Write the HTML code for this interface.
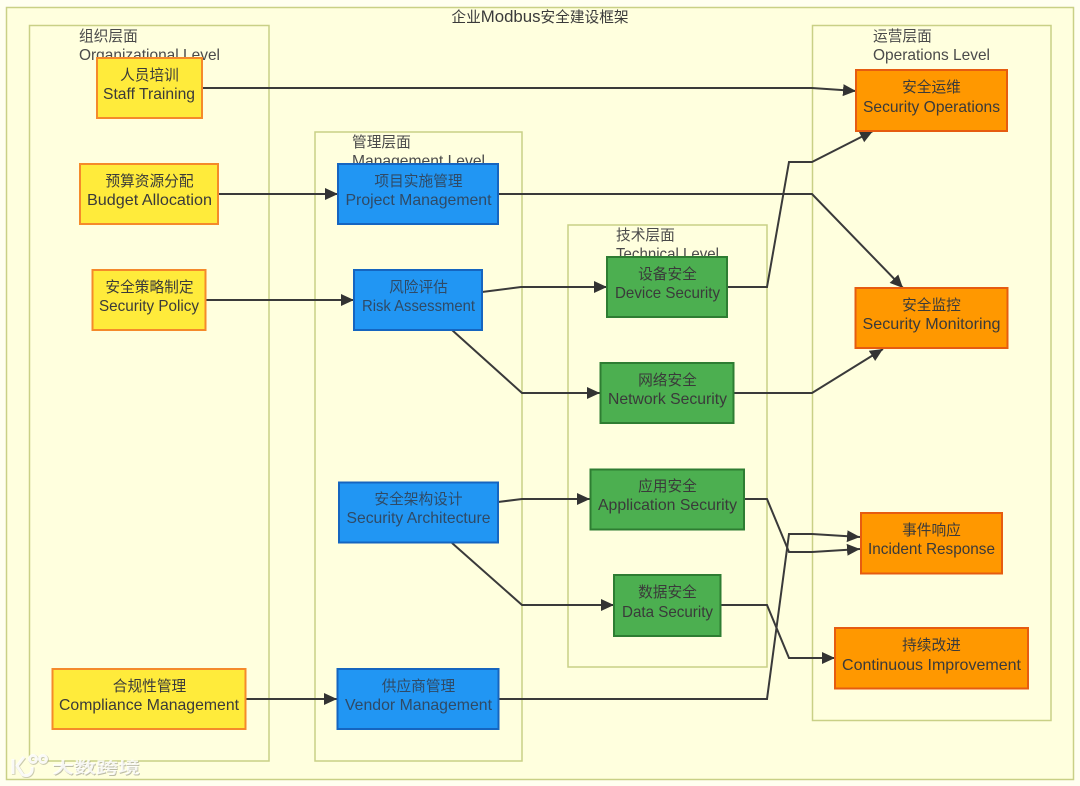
<!DOCTYPE html>
<html><head><meta charset="utf-8"><style>
html,body{margin:0;padding:0;background:#fffff0;width:1080px;height:786px;overflow:hidden}
svg{display:block;filter:blur(.35px)}
text{font-family:"Liberation Sans","Noto Sans CJK SC",sans-serif;font-size:14.7px;fill:#3a3a3a;text-anchor:middle}
text[textLength]{font-size:15.6px}
.l{text-anchor:start;fill:#4a4a4a}
.c{fill:#ffffde;stroke:#c9d086;stroke-width:1.5}
.y{fill:#ffeb3b;stroke:#f58a2a;stroke-width:2}
.b{fill:#2196f3;stroke:#1565c0;stroke-width:2}
.b+text,.b+text+text{fill:#2f4a66}
.g{fill:#4caf50;stroke:#2e7d32;stroke-width:2}
.o{fill:#ff9800;stroke:#e65c10;stroke-width:2}
.e{fill:none;stroke:#3a3a3a;stroke-width:2;marker-end:url(#a)}
.w{font-size:22px;font-weight:bold;fill:#fff;fill-opacity:.85;text-anchor:start}
.ws{font-size:22px;font-weight:bold;fill:#8f8f80;fill-opacity:.6;text-anchor:start}
</style></head><body>
<svg width="1080" height="786" viewBox="0 0 1080 786" xmlns="http://www.w3.org/2000/svg">
<defs><marker id="a" markerUnits="userSpaceOnUse" markerWidth="14" markerHeight="13" refX="13" refY="6" orient="auto"><path d="M0,0L13,6L0,12z" fill="#333"/></marker></defs>

<rect class="c" x="6.5" y="7.5" width="1067" height="772"/>
<text x="540" y="22">企业<tspan font-size="16.8">Modbus</tspan>安全建设框架</text>

<rect class="c" x="29.5" y="25.5" width="239.5" height="735.5"/>
<rect class="c" x="315" y="132" width="207" height="629"/>
<rect class="c" x="568" y="225" width="199" height="442"/>
<rect class="c" x="812.5" y="25.5" width="238.5" height="695"/>

<text class="l" x="79" y="41">组织层面</text>
<text class="l" x="79" y="60" textLength="141" lengthAdjust="spacingAndGlyphs">Organizational Level</text>
<text class="l" x="352" y="147">管理层面</text>
<text class="l" x="352" y="166" textLength="133" lengthAdjust="spacingAndGlyphs">Management Level</text>
<text class="l" x="616" y="240">技术层面</text>
<text class="l" x="616" y="259" textLength="103" lengthAdjust="spacingAndGlyphs">Technical Level</text>
<text class="l" x="873" y="41">运营层面</text>
<text class="l" x="873" y="60" textLength="117" lengthAdjust="spacingAndGlyphs">Operations Level</text>

<path class="e" d="M202,88H812L856,91"/>
<path class="e" d="M218,194H338"/>
<path class="e" d="M498,194H812L903,288"/>
<path class="e" d="M206,300H354"/>
<path class="e" d="M482,292L521,287H607"/>
<path class="e" d="M452,330L522,393H600"/>
<path class="e" d="M727,287H767L789,162H812L873,131"/>
<path class="e" d="M734,393H812L883,349"/>
<path class="e" d="M498,502L522,499H590"/>
<path class="e" d="M452,543L522,605H614"/>
<path class="e" d="M744,499H767L789,552H812L860,549"/>
<path class="e" d="M720,605H767L789,658H835"/>
<path class="e" d="M246,699H337"/>
<path class="e" d="M499,699H767L789,534H812L860,537"/>

<rect class="y" x="97" y="58" width="105" height="60"/>
<text x="149.500" y="80">人员培训</text><text x="149" y="99" textLength="92" lengthAdjust="spacingAndGlyphs">Staff Training</text>
<rect class="y" x="80" y="164" width="138" height="60"/>
<text x="149.500" y="186">预算资源分配</text><text x="149.500" y="205" textLength="125" lengthAdjust="spacingAndGlyphs">Budget Allocation</text>
<rect class="y" x="92.500" y="270" width="113" height="60"/>
<text x="149.500" y="292">安全策略制定</text><text x="149" y="311" textLength="100" lengthAdjust="spacingAndGlyphs">Security Policy</text>
<rect class="y" x="52.500" y="669" width="193" height="60"/>
<text x="149.500" y="691">合规性管理</text><text x="149" y="710" textLength="180" lengthAdjust="spacingAndGlyphs">Compliance Management</text>

<rect class="b" x="338" y="164" width="160" height="60"/>
<text x="418.500" y="186">项目实施管理</text><text x="418.500" y="205" textLength="146" lengthAdjust="spacingAndGlyphs">Project Management</text>
<rect class="b" x="354" y="270" width="128" height="60"/>
<text x="418.500" y="292">风险评估</text><text x="418.500" y="311" textLength="113" lengthAdjust="spacingAndGlyphs">Risk Assessment</text>
<rect class="b" x="339" y="482.500" width="159" height="60"/>
<text x="418.500" y="504">安全架构设计</text><text x="418.500" y="523" textLength="144" lengthAdjust="spacingAndGlyphs">Security Architecture</text>
<rect class="b" x="337.500" y="669" width="161" height="60"/>
<text x="418.500" y="691">供应商管理</text><text x="418.500" y="710" textLength="147" lengthAdjust="spacingAndGlyphs">Vendor Management</text>

<rect class="g" x="607" y="257" width="120" height="60"/>
<text x="667.500" y="279">设备安全</text><text x="667.500" y="298" textLength="105" lengthAdjust="spacingAndGlyphs">Device Security</text>
<rect class="g" x="600.500" y="363" width="133" height="60"/>
<text x="667.500" y="385">网络安全</text><text x="667.500" y="404" textLength="119" lengthAdjust="spacingAndGlyphs">Network Security</text>
<rect class="g" x="590.500" y="469.500" width="153.500" height="60"/>
<text x="667.500" y="491">应用安全</text><text x="667.500" y="510" textLength="139" lengthAdjust="spacingAndGlyphs">Application Security</text>
<rect class="g" x="614" y="575" width="106.500" height="61"/>
<text x="667.500" y="597">数据安全</text><text x="667.500" y="617" textLength="91" lengthAdjust="spacingAndGlyphs">Data Security</text>

<rect class="o" x="856" y="70" width="151" height="61"/>
<text x="931.500" y="92">安全运维</text><text x="931.500" y="112" textLength="137" lengthAdjust="spacingAndGlyphs">Security Operations</text>
<rect class="o" x="855.500" y="288" width="152" height="60"/>
<text x="931.500" y="310">安全监控</text><text x="931.500" y="329" textLength="138" lengthAdjust="spacingAndGlyphs">Security Monitoring</text>
<rect class="o" x="861" y="513" width="141" height="60.500"/>
<text x="931.500" y="535">事件响应</text><text x="931.500" y="554" textLength="127" lengthAdjust="spacingAndGlyphs">Incident Response</text>
<rect class="o" x="835" y="628" width="193" height="60.500"/>
<text x="931.500" y="650">持续改进</text><text x="931.500" y="670" textLength="179" lengthAdjust="spacingAndGlyphs">Continuous Improvement</text>

<g fill="none" stroke="#a8a890" stroke-opacity=".6" stroke-width="3.500" transform="translate(.7,.7)">
<path d="M13,759V774"/><path d="M24,757L17,766L23,775C29,777 33,773 32,767"/>
<circle cx="33" cy="759" r="3.500"/><circle cx="43" cy="759" r="3.500"/>
</g>
<g fill="none" stroke="#fff" stroke-opacity=".9" stroke-width="3">
<path d="M13,759V774"/><path d="M24,757L17,766L23,775C29,777 33,773 32,767"/>
<circle cx="33" cy="759" r="3.500"/><circle cx="43" cy="759" r="3.500"/>
</g>
<text class="ws" x="52.800" y="773.800" textLength="88" lengthAdjust="spacingAndGlyphs">大数跨境</text>
<text class="w" x="52" y="773" textLength="88" lengthAdjust="spacingAndGlyphs">大数跨境</text>
</svg>
</body></html>
